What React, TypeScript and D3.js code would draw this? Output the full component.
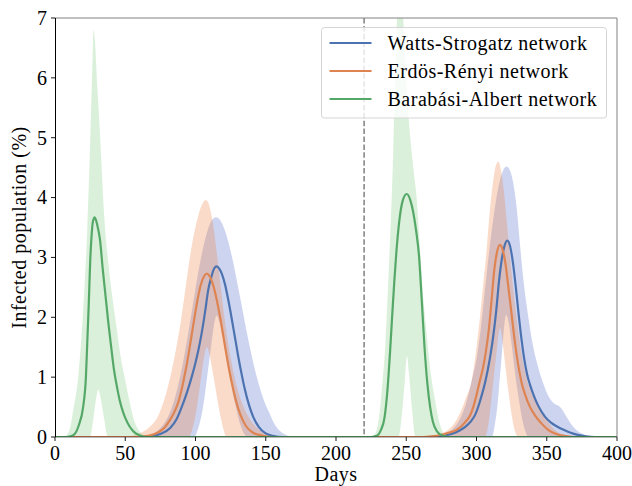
import React from "react";
import * as d3 from "d3";

type P = [number, number];

const xTicks = [0, 50, 100, 150, 200, 250, 300, 350, 400];
const yTicks = [0, 1, 2, 3, 4, 5, 6, 7];
const seriesNames = ["Watts-Strogatz network", "Erdös-Rényi network", "Barabási-Albert network"];
const lineColors = ["#4C72B0", "#DD8452", "#55A868"];
const bandColors = ["rgb(88,112,205)", "rgb(238,132,72)", "rgb(132,205,132)"];
const interventionDay = 220;

const wsMean: P[] = [[0,0],[60,0],[67,0.01],[75,0.05],[82,0.15],[86.6,0.3],[91,0.55],[94,0.75],[97,0.98],[99,1.15],[101,1.34],[103,1.56],[105,1.82],[107,2.12],[109,2.45],[111,2.65],[113,2.8],[115,2.85],[117,2.81],[119,2.71],[121,2.55],[123,2.33],[125,2.08],[127,1.81],[129,1.54],[131,1.27],[133,1.03],[135,0.81],[138,0.54],[141,0.34],[145,0.17],[150,0.06],[155,0.02],[162,0],[268,0],[275,0.015],[282,0.05],[288,0.11],[292,0.17],[296,0.26],[299,0.37],[302,0.56],[304,0.72],[306,0.9],[308,1.12],[310,1.38],[312,1.7],[314,2.1],[316,2.6],[318,2.97],[320,3.2],[322,3.28],[324,3.18],[326,2.9],[328,2.5],[330,2.05],[332,1.64],[334,1.3],[336,1.05],[338,0.88],[341,0.68],[344,0.52],[348.7,0.34],[353,0.24],[357,0.18],[362,0.12],[367,0.07],[372,0.035],[378,0.01],[384,0],[400,0]];
const wsUpper: P[] = [[0,0],[60,0],[65,0.02],[70,0.06],[75,0.15],[79.6,0.3],[83.6,0.52],[87.6,0.86],[90.6,1.18],[93.6,1.57],[96.6,1.99],[99.6,2.42],[102.6,2.83],[105.6,3.18],[108.6,3.45],[111.6,3.62],[114.6,3.67],[117.6,3.62],[120.6,3.47],[123.6,3.24],[126.6,2.94],[129.6,2.59],[132.6,2.23],[135.6,1.86],[138.6,1.51],[141.6,1.19],[144.6,0.92],[148.6,0.62],[152.6,0.4],[156.6,0.2],[161.6,0.07],[166,0.02],[170,0],[272,0],[278,0.05],[283,0.13],[287,0.25],[291,0.45],[294,0.68],[297,0.98],[300,1.3],[303,1.8],[306,2.45],[309,3.1],[312,3.65],[315,4.1],[318,4.4],[321.5,4.52],[323.5,4.47],[326.2,4.24],[328.5,3.85],[331,3.2],[333.5,2.6],[336.9,2.0],[340,1.55],[343.5,1.2],[347.5,0.9],[350.5,0.72],[353.5,0.6],[356.5,0.54],[358.5,0.52],[361.5,0.44],[364.5,0.32],[368.5,0.18],[372.5,0.09],[376.5,0.04],[381,0],[400,0]];
const wsLower: P[] = [[0,0],[99,0],[102,0.15],[105,0.45],[108,0.95],[111,1.5],[113,1.85],[115,2.03],[117,1.92],[119,1.7],[121,1.45],[123,1.18],[126,0.8],[129,0.47],[132,0.2],[135,0.04],[137,0],[311,0],[313,0.2],[315,0.55],[317,1.1],[319,1.65],[321,2.04],[323,1.9],[325,1.55],[327,1.15],[329,0.8],[331,0.5],[333,0.25],[335,0.08],[337,0],[400,0]];

const erMean: P[] = [[0,0],[58,0],[66,0.02],[73,0.07],[78,0.16],[82,0.29],[85,0.42],[88,0.6],[90,0.78],[92,1.0],[94,1.24],[96,1.52],[98,1.81],[100,2.1],[102,2.36],[104,2.56],[106,2.68],[108,2.73],[110,2.69],[112,2.58],[114,2.41],[116,2.19],[118,1.94],[120,1.66],[122,1.38],[124,1.12],[126,0.89],[129,0.59],[132,0.37],[136,0.18],[141,0.07],[148,0.02],[155,0],[262,0],[268,0.01],[274,0.03],[280,0.07],[285.9,0.12],[291.7,0.24],[295.4,0.36],[297.7,0.5],[299.7,0.67],[302,0.9],[304.7,1.16],[306.7,1.43],[308.7,1.78],[310.7,2.28],[312.7,2.8],[314.7,3.1],[316.7,3.21],[318.7,3.12],[320.7,2.88],[322.7,2.5],[325,2.05],[326.7,1.7],[328.7,1.35],[332.2,0.9],[334.7,0.7],[337.7,0.52],[341.6,0.36],[345.7,0.24],[351,0.12],[356.7,0.05],[363.7,0.015],[370,0],[400,0]];
const erUpper: P[] = [[0,0],[50,0],[56,0.03],[62,0.08],[67,0.16],[70,0.23],[73,0.33],[76,0.5],[79,0.72],[82,1.0],[86,1.45],[90,2.0],[93,2.5],[96,3.0],[99,3.4],[102,3.7],[105,3.9],[107.5,3.96],[110,3.85],[112.5,3.55],[115,3.1],[117.5,2.6],[120,2.1],[123,1.6],[126,1.2],[129,0.88],[132,0.64],[135,0.46],[139,0.29],[143,0.17],[147,0.09],[152,0.03],[158,0],[262,0],[268,0.02],[275,0.06],[280,0.12],[284,0.22],[288.3,0.4],[292.5,0.65],[296.6,0.95],[299.5,1.4],[302.5,2.01],[305,2.6],[307.2,3.12],[309,3.65],[311,4.12],[313,4.45],[315.5,4.6],[317.5,4.45],[319.5,4.1],[321.5,3.6],[323.5,3.1],[326,2.5],[329,1.9],[332,1.4],[335,1.05],[338,0.8],[342,0.6],[346,0.42],[350,0.28],[354,0.16],[358,0.08],[363,0.03],[368,0],[400,0]];
const erLower: P[] = [[0,0],[95,0],[98,0.15],[101,0.5],[104,1.0],[106,1.32],[108,1.5],[110,1.38],[112,1.12],[114,0.85],[116,0.57],[118,0.32],[120,0.12],[122,0],[306,0],[308,0.15],[310,0.5],[312.5,1.05],[314.7,1.5],[316.7,1.82],[318.5,1.6],[320.5,1.2],[322.5,0.8],[324.5,0.45],[326.5,0.18],[328.5,0.03],[330,0],[400,0]];

const baMean: P[] = [[0,0],[8,0],[11,0.01],[14,0.05],[17,0.2],[20,0.5],[22,1.0],[23,1.6],[24,2.2],[25,2.9],[26,3.35],[27,3.6],[28.3,3.67],[30,3.55],[32,3.3],[34,2.8],[36,2.35],[38,1.9],[40,1.5],[42,1.12],[44,0.85],[46,0.62],[48,0.45],[50,0.32],[53,0.18],[56,0.09],[60,0.03],[65,0],[225,0],[229,0.02],[232,0.12],[234.5,0.32],[236.5,0.75],[238.5,1.43],[240,2.03],[241.5,2.6],[243,3.1],[245,3.6],[247.5,3.95],[250.3,4.06],[253,3.95],[255,3.75],[257,3.45],[259,3.05],[261,2.3],[263,1.5],[265,0.9],[267,0.5],[269,0.25],[272,0.09],[276,0.02],[280,0],[400,0]];
const baUpper: P[] = [[0,0],[6,0],[9,0.05],[11,0.18],[13,0.45],[16.5,1.0],[20,2.1],[23,3.5],[25,4.9],[26.5,6.1],[27.5,6.8],[28.5,6.6],[30,5.9],[31.5,5.3],[33,4.6],[35,3.7],[38,2.9],[41,2.3],[44,1.8],[47,1.3],[50,0.95],[53,0.6],[56,0.3],[60,0.1],[64,0.02],[67,0],[224,0],[227,0.03],[229,0.12],[231,0.4],[233,0.9],[235,1.5],[237,2.5],[239,3.6],[240.5,4.6],[242,6.0],[243.5,7.0],[245.5,7.4],[247.5,7.1],[249,6.5],[250.5,5.8],[252.5,5.1],[255,4.5],[257.5,3.96],[260,3.05],[262,2.35],[264.5,1.73],[267,1.15],[270.5,0.62],[273,0.3],[276,0.08],[279,0],[400,0]];
const baLower: P[] = [[0,0],[25,0],[27,0.25],[29,0.6],[30.8,0.79],[32.5,0.65],[35,0.3],[37.5,0],[244.5,0],[247,0.4],[249,0.95],[250.5,1.35],[252,1.05],[254,0.5],[256.5,0],[400,0]];

const means = [wsMean, erMean, baMean];
const uppers = [wsUpper, erUpper, baUpper];
const lowers = [wsLower, erLower, baLower];

const W = 632, H = 486;
const L = 55, R = 617, T = 18, B = 437;
const FONT = "'Liberation Serif', 'DejaVu Serif', serif";

export default function App() {
  const x = d3.scaleLinear().domain([0, 400]).range([L, R]);
  const y = d3.scaleLinear().domain([0, 7]).range([B, T]);
  const line = d3.line<P>().x(d => x(d[0])).y(d => y(d[1])).curve(d3.curveMonotoneX);
  const band = (up: P[], lo: P[]) => {
    const a = line(up) as string;
    const b = line([...lo].reverse()) as string;
    return a + "L" + b.slice(1) + "Z";
  };
  const txt = { fontFamily: FONT, fontSize: 20, fill: "#000" } as React.CSSProperties;
  return (
    <svg width={W} height={H} style={{ position: "absolute", left: 0, top: 0, background: "#fff", fontFamily: FONT }}>
      <defs>
        <clipPath id="plot"><rect x={L} y={T} width={R - L} height={B - T} /></clipPath>
      </defs>
      <g clipPath="url(#plot)">
        {uppers.map((u, i) => (
          <path key={"b" + i} d={band(u, lowers[i])} fill={bandColors[i]} fillOpacity={0.3} stroke="none" />
        ))}
        <line x1={x(interventionDay)} x2={x(interventionDay)} y1={T} y2={B} stroke="#808080" strokeWidth={1.5} strokeDasharray="5.5,2.4" />
        {means.map((m, i) => (
          <path key={"m" + i} d={line(m) as string} fill="none" stroke={lineColors[i]} strokeWidth={2.2} strokeLinejoin="round" />
        ))}
      </g>
      <line x1={L} x2={R} y1={T} y2={T} stroke="#808080" strokeWidth={1} />
      <line x1={R} x2={R} y1={T} y2={B} stroke="#808080" strokeWidth={1} />
      <line x1={L + 0.5} x2={L + 0.5} y1={T} y2={B} stroke="#000" strokeWidth={1} />
      <line x1={L} x2={R} y1={B} y2={B} stroke="#000" strokeWidth={1} strokeOpacity={0.55} />
      {xTicks.map(t => (
        <g key={"x" + t}>
          <line x1={x(t)} x2={x(t)} y1={B} y2={B + 4} stroke="#000" strokeWidth={0.9} />
          <text x={x(t)} y={B + 23} textAnchor="middle" style={txt}>{t}</text>
        </g>
      ))}
      {yTicks.map(t => (
        <g key={"y" + t}>
          <line x1={L - 4} x2={L} y1={y(t)} y2={y(t)} stroke="#000" strokeWidth={0.9} />
          <text x={L - 8} y={y(t) + 6.8} textAnchor="end" style={txt}>{t}</text>
        </g>
      ))}
      <text x={(L + R) / 2} y={481} textAnchor="middle" style={{ ...txt, letterSpacing: 0.5 }}>Days</text>
      <text transform={`translate(25.5,${(T + B) / 2}) rotate(-90)`} textAnchor="middle" style={{ ...txt, letterSpacing: 0.5 }}>Infected population (%)</text>
      <rect x={321.5} y={27.5} width={285} height={90.5} rx={3} fill="#fff" fillOpacity={0.8} stroke="#d5d5d5" strokeWidth={1} />
      {seriesNames.map((n, i) => (
        <g key={"l" + i}>
          <line x1={329.5} x2={371.5} y1={43 + i * 28} y2={43 + i * 28} stroke={lineColors[i]} strokeWidth={2.2} />
          <text x={387.5} y={50 + i * 28} style={{ ...txt, letterSpacing: 0.5 }}>{n}</text>
        </g>
      ))}
    </svg>
  );
}
